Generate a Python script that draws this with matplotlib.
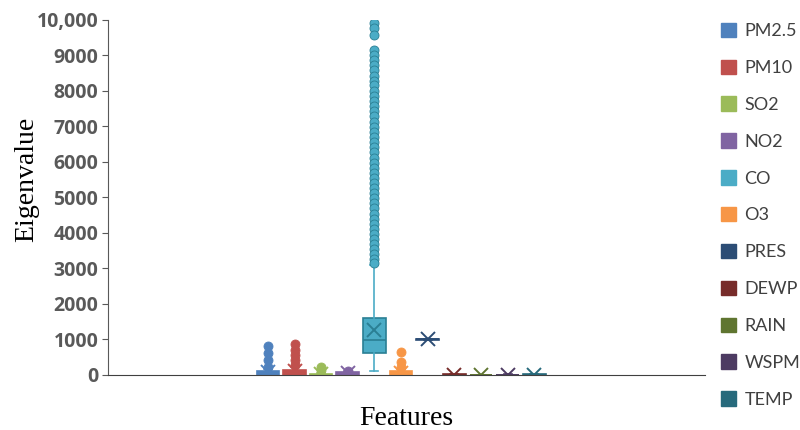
import matplotlib.pyplot as plt
from matplotlib.patches import Patch

# features and box statistics
features = ['PM2.5', 'PM10', 'SO2', 'NO2', 'CO', 'O3', 'PRES', 'DEWP', 'RAIN', 'WSPM', 'TEMP']
colors = ['#4F81BD', '#C0504D', '#9BBB59', '#8064A2', '#4BACC6', '#F79646',
          '#2C4D75', '#772C2A', '#5F7530', '#4D3B62', '#276A7C']
q1 = [5, 8, 3, 10, 620, 5, 992, 0, 0, 0, 0]
median = [40, 55, 10, 40, 985, 45, 1000, 2, 0, 2, 10]
q3 = [120, 140, 40, 70, 1605, 115, 1010, 15, 5, 8, 20]
whislo = [0, 0, 0, 0, 110, 0, 985, 0, 0, 0, 0]
whishi = [180, 230, 60, 100, 3100, 170, 1020, 30, 10, 15, 30]
means = [80, 100, 25, 50, 1270, 60, 1005, 10, 5, 5, 10]
fliers = [
    [825, 630, 420, 235],
    [865, 705, 565, 420, 280],
    [230, 150],
    [120],
    [9900, 9760, 9560, 9160, 9020, 8870, 8720, 8580, 8430, 8290, 8150, 8000,
     7860, 7710, 7570, 7420, 7280, 7130, 6990, 6840, 6700, 6560, 6410, 6270,
     6120, 5980, 5840, 5690, 5550, 5400, 5260, 5120, 4970, 4830, 4690, 4540,
     4400, 4260, 4110, 3970, 3830, 3690, 3540, 3400, 3270, 3150],
    [660, 375, 235],
    [], [], [], [], [],
]

yticks = [0, 1000, 2000, 3000, 4000, 5000, 6000, 7000, 8000, 9000, 10000]
ylabels = ['0', '1000', '2000', '3000', '4000', '5000', '6000', '7000', '8000', '9000', '10,000']

fig = plt.figure(figsize=(8, 4.3), dpi=100)
ax = fig.add_axes([0.135, 0.128, 0.746, 0.826])

stats = []
for i in range(len(features)):
    stats.append({'label': features[i], 'q1': q1[i], 'med': median[i], 'q3': q3[i],
                  'whislo': whislo[i], 'whishi': whishi[i], 'mean': means[i],
                  'fliers': fliers[i]})

positions = list(range(1, len(features) + 1))
for i, s in enumerate(stats):
    c = colors[i]
    dark = '#2a7f94' if i == 4 else c
    ax.bxp([s], positions=[positions[i]], widths=0.85, patch_artist=True,
           showmeans=True, showcaps=True,
           boxprops=dict(facecolor=c, edgecolor=dark, linewidth=1.2),
           medianprops=dict(color=dark, linewidth=1.2),
           whiskerprops=dict(color=c, linewidth=1.2),
           capprops=dict(color=c, linewidth=1.2),
           capwidths=0.3,
           meanprops=dict(marker='x', markeredgecolor=dark,
                          markersize=10, markeredgewidth=1.4),
           flierprops=dict(marker='o', markerfacecolor=c, markeredgecolor=dark,
                           markersize=6.5, markeredgewidth=0.6))

ax.set_xlim(-5, 17.4)
ax.set_ylim(0, 10000)
ax.set_xticks([])
ax.set_yticks(yticks)
ax.set_yticklabels(ylabels, fontsize=14, fontweight='bold', color='#595959',
                   family='Open Sans')
ax.tick_params(axis='y', length=4, color='#595959', pad=3)
ax.spines['top'].set_visible(False)
ax.spines['right'].set_visible(False)
ax.spines['left'].set_color('#595959')
ax.spines['bottom'].set_color('#404040')
ax.set_ylabel('Eigenvalue', family='Liberation Serif', fontsize=20)
ax.yaxis.set_label_coords(-0.115, 0.55)
ax.set_xlabel('Features', family='Liberation Serif', fontsize=20, labelpad=22)

handles = [Patch(facecolor=c, edgecolor=c) for c in colors]
fig.legend(handles, features, loc='upper left', bbox_to_anchor=(0.881, 0.985),
           frameon=False, prop={'family': 'Lato', 'size': 13},
           labelcolor='#404040', handlelength=0.85, handleheight=0.85,
           handletextpad=0.45, labelspacing=1.13)

fig.savefig('out.png', dpi=100)
